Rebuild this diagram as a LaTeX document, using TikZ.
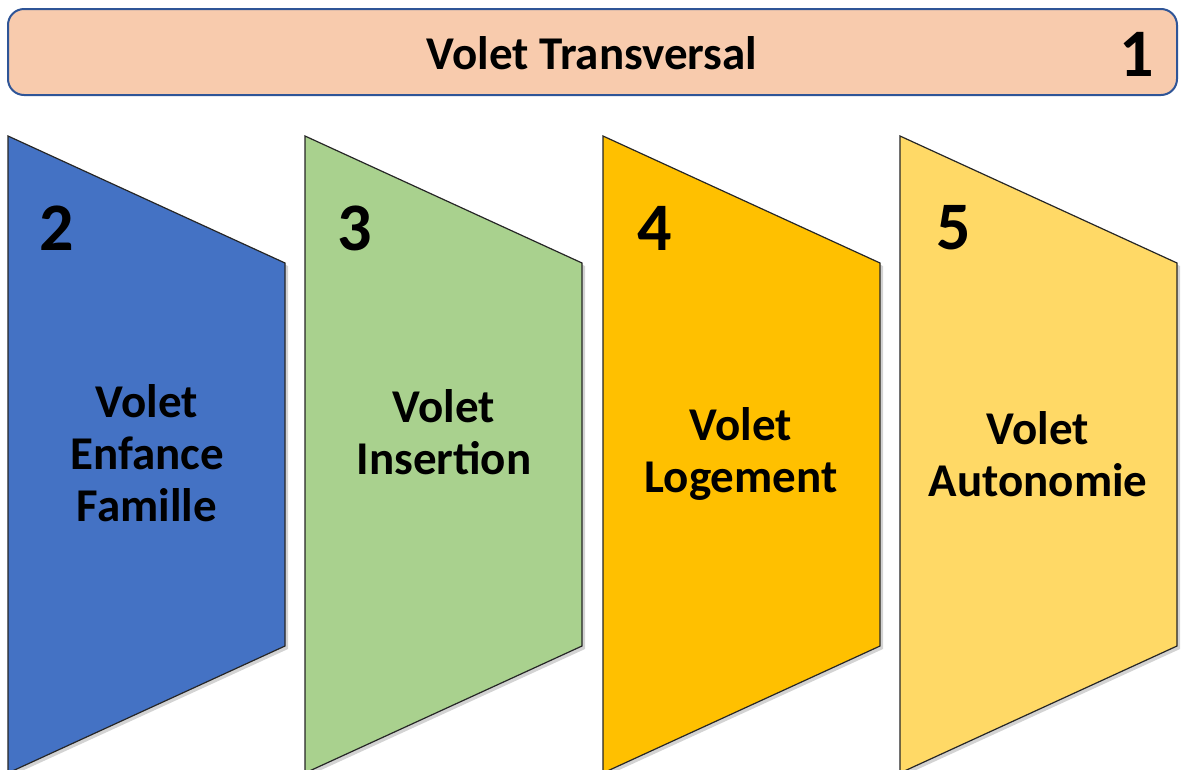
\documentclass[tikz,border=0pt]{standalone}
\usepackage{fontspec}
\setmainfont{Carlito}
\usetikzlibrary{shadows,positioning}
\definecolor{barfill}{HTML}{F8CBAD}
\definecolor{barline}{HTML}{2F5597}
\definecolor{voletblue}{HTML}{4472C4}
\definecolor{voletgreen}{HTML}{A9D18E}
\definecolor{voletorange}{HTML}{FFC000}
\definecolor{voletyellow}{HTML}{FFD966}
\tikzstyle{bar} = [draw=barline, line width=2pt, fill=barfill, rounded corners=16pt]
\tikzstyle{panel} = [draw=black!85, line width=1.2pt, drop shadow={shadow xshift=3pt, shadow yshift=-3pt, opacity=0.35}]
\tikzstyle{numtext} = [font=\bfseries\fontsize{68}{68}\selectfont, inner sep=0pt, text=black]
\tikzstyle{bartext} = [font=\bfseries\fontsize{47}{52}\selectfont, inner sep=0pt, text=black]
\tikzstyle{voletlabel} = [font=\bfseries\fontsize{47}{52}\selectfont, align=center, inner sep=0pt, text=black]

\begin{document}
\begin{tikzpicture}[x=1pt,y=-1pt]
            \useasboundingbox (0,0) rectangle (1181,769);
            % top bar
            \draw[bar] (8,9) rectangle (1177,95);
            \node (Transversal) [bartext] at (592,53) {Volet Transversal};
            \node (One) [numtext, anchor=east] at (1154,54) {1};
            % panels
            \foreach \x/\col in {8/voletblue, 305/voletgreen, 603/voletorange, 900/voletyellow}
                \draw[panel, fill=\col] (\x,136) -- ++(277,127) -- ++(0,383) -- ++(-277,127) -- cycle;
            \node (Two) [numtext, anchor=west] at (39,228) {2};
            \node (Three) [numtext, anchor=west] at (337,228) {3};
            \node (Four) [numtext, anchor=west] at (637,228) {4};
            \node (Five) [numtext, anchor=west] at (936,228) {5};
            \node (Enfance) [voletlabel] at (147,453) {Volet\\Enfance\\Famille};
            \node (Insertion) [voletlabel] at (444,432) {Volet\\Insertion};
            \node (Logement) [voletlabel] at (741,454) {Volet\\Logement};
            \node (Autonomie) [voletlabel] at (1038,454) {Volet\\Autonomie};
        \end{tikzpicture}
\end{document}
